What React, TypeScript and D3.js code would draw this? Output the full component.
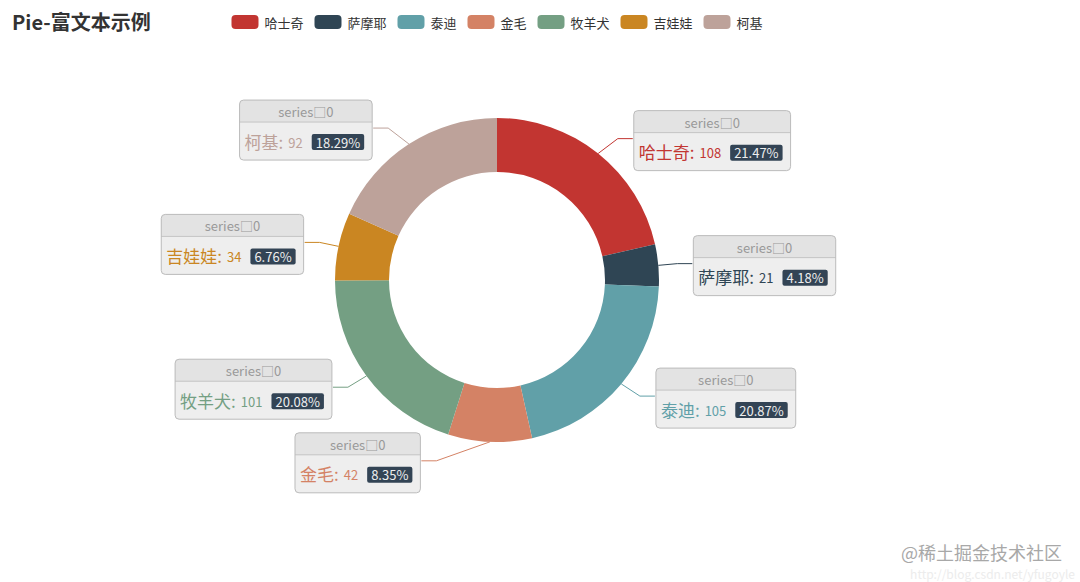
import React from 'react';
import * as d3 from 'd3';

const title = 'Pie-富文本示例';
const seriesName = 'series\u25A10';
const names = ['哈士奇', '萨摩耶', '泰迪', '金毛', '牧羊犬', '吉娃娃', '柯基'];
const values = [108, 21, 105, 42, 101, 34, 92];
const colors = ['#c23531', '#2f4554', '#61a0a8', '#d48265', '#749f83', '#ca8622', '#bda29a'];
const watermark = '@稀土掘金技术社区';
const watermarkUrl = 'http://blog.csdn.net/yfugoyle';

const W = 1080;
const H = 582;
const FONT = '"Noto Sans CJK SC", "Noto Sans", sans-serif';

let ctx: CanvasRenderingContext2D | null = null;
function measure(text: string, size: number, weight = 'normal') {
  if (!ctx) ctx = document.createElement('canvas').getContext('2d');
  ctx!.font = `${weight} ${size}px ${FONT}`;
  return ctx!.measureText(text).width;
}

// largest remainder percentages (2 decimals), like echarts
function percents(vals: number[], precision = 2) {
  const sum = d3.sum(vals);
  const digits = Math.pow(10, precision);
  const target = 100 * digits;
  const raw = vals.map((v) => (v / sum) * target);
  const seats = raw.map((v) => Math.floor(v));
  let current = d3.sum(seats);
  const rem = raw.map((v, i) => v - seats[i]);
  while (current < target) {
    let max = -1, idx = -1;
    rem.forEach((r, i) => { if (r > max) { max = r; idx = i; } });
    seats[idx]++;
    rem[idx] = 0;
    current++;
  }
  return seats.map((s) => (s / digits).toFixed(precision));
}

export default function App() {
  const cx = 497;
  const cy = 280;
  const R = 162;
  const r0 = 108;
  const len = 19;
  const len2 = 15;

  const pcts = percents(values);
  const data = names.map((n, i) => ({ name: n, value: values[i], color: colors[i], pct: pcts[i] }));
  const pie = d3.pie<any>().sort(null).value((d: any) => d.value).startAngle(0).endAngle(2 * Math.PI);
  const arcs = pie(data);
  const arcGen = d3.arc<any>().innerRadius(r0).outerRadius(R);

  // label layout (echarts-like)
  const labels = arcs.map((a) => {
    const mid = (a.startAngle + a.endAngle) / 2;
    const s = Math.sin(mid);
    const c = Math.cos(mid);
    const dir = s >= 0 ? 1 : -1;
    const x0 = cx + R * s;
    const y0 = cy - R * c;
    const y = cy - (R + len) * c;
    const x1 = cx + (R + len) * s;
    const xEnd = x1 + dir * len2;
    return { a, dir, x0, y0, y, xEnd, d: a.data };
  });

  const changeX = (list: any[], isDown: boolean, dir: number) => {
    let last = isDown ? Number.MAX_VALUE : 0;
    list.forEach((l) => {
      const dy = Math.abs(l.y - cy);
      let dx = dy < R + len
        ? Math.sqrt((R + len + len2) ** 2 - dy * dy)
        : Math.abs(l.xEnd - cx);
      if (isDown && dx >= last) dx = last - 10;
      if (!isDown && dx <= last) dx = last + 10;
      l.xEnd = cx + dx * dir;
      last = dx;
    });
  };
  [1, -1].forEach((dir) => {
    const side = labels.filter((l) => l.dir === dir).sort((p, q) => p.y - q.y);
    const up = side.filter((l) => l.y < cy);
    const down = side.filter((l) => l.y >= cy);
    changeX(up, false, dir);
    changeX(down, true, dir);
  });

  // legend layout
  const iconW = 27, iconH = 14, iconGap = 6, itemGap = 11, legendFs = 13;
  const legendItems = names.map((n, i) => ({ name: n, color: colors[i], tw: measure(n, legendFs) }));
  const legendTotal = d3.sum(legendItems, (d) => iconW + iconGap + d.tw) + itemGap * (legendItems.length - 1);
  let lx = cx - legendTotal / 2;
  const legendPos = legendItems.map((it) => {
    const x = lx;
    lx += iconW + iconGap + it.tw + itemGap;
    return { ...it, x };
  });

  const nameFs = 17, valFs = 13, perFs = 13, headFs = 13;
  const boxH = 60, headH = 22;

  return (
    <svg width={W} height={H} style={{ display: 'block', position: 'absolute', left: 0, top: 0 }} fontFamily={FONT}>
      <rect x={0} y={0} width={W} height={H} fill="#fff" />
      <text x={12} y={30} fontSize={20} fontWeight="bold" fill="#333">{title}</text>

      {legendPos.map((it) => (
        <g key={it.name}>
          <rect x={it.x} y={15} width={iconW} height={iconH} rx={4} fill={it.color} />
          <text x={it.x + iconW + iconGap} y={22} dominantBaseline="central" fontSize={legendFs} fill="#333">{it.name}</text>
        </g>
      ))}

      <g transform={`translate(${cx},${cy})`}>
        {arcs.map((a, i) => (
          <path key={i} d={arcGen(a) as string} fill={a.data.color} />
        ))}
      </g>

      {labels.map((l, i) => {
        const elbowX = l.xEnd - l.dir * len2;
        const nameT = `${l.d.name}:`;
        const valT = `${l.d.value}`;
        const perT = `${l.d.pct}%`;
        const nw = measure(nameT, nameFs);
        const vw = measure(valT, valFs);
        const pw = measure(perT, perFs) + 8;
        const bw = 5 + nw + 5 + vw + 9 + pw + 8;
        const left = l.dir > 0 ? l.xEnd + 1 : l.xEnd - bw - 1;
        const top = l.y - 28;
        const rowY = top + headH + 19;
        const nx = left + 5;
        const vx = nx + nw + 5;
        const px = vx + vw + 9;
        const rr = 4;
        const headPath = `M${left},${top + headH} L${left},${top + rr} Q${left},${top} ${left + rr},${top} L${left + bw - rr},${top} Q${left + bw},${top} ${left + bw},${top + rr} L${left + bw},${top + headH} Z`;
        return (
          <g key={i}>
            <polyline
              points={`${l.x0},${l.y0} ${elbowX},${l.y} ${l.xEnd},${l.y}`}
              fill="none"
              stroke={l.d.color}
              strokeWidth={1}
            />
            <rect x={left} y={top} width={bw} height={boxH} rx={rr} fill="#eeeeee" />
            <path d={headPath} fill="#e3e3e3" />
            <line x1={left} x2={left + bw} y1={top + headH} y2={top + headH} stroke="#c4c4c4" strokeWidth={1} />
            <rect x={left} y={top} width={bw} height={boxH} rx={rr} fill="none" stroke="#bbbbbb" strokeWidth={1} />
            <text x={left + bw / 2} y={top + 11.5} textAnchor="middle" dominantBaseline="central" fontSize={headFs} fill="#999">{seriesName}</text>
            <text x={nx} y={rowY} dominantBaseline="central" fontSize={nameFs} fill={l.d.color}>{nameT}</text>
            <text x={vx} y={rowY + 1} dominantBaseline="central" fontSize={valFs} fill={l.d.color}>{valT}</text>
            <rect x={px} y={rowY + 1 - 8} width={pw} height={16} rx={2} fill="#334455" />
            <text x={px + 4} y={rowY + 1} dominantBaseline="central" fontSize={perFs} fill="#eee">{perT}</text>
          </g>
        );
      })}

      <text x={W - 18} y={560} textAnchor="end" fontSize={18} fill="#a8a8a8">{watermark}</text>
      <text x={W - 5} y={579} textAnchor="end" fontSize={12} fill="#ececec">{watermarkUrl}</text>
    </svg>
  );
}
